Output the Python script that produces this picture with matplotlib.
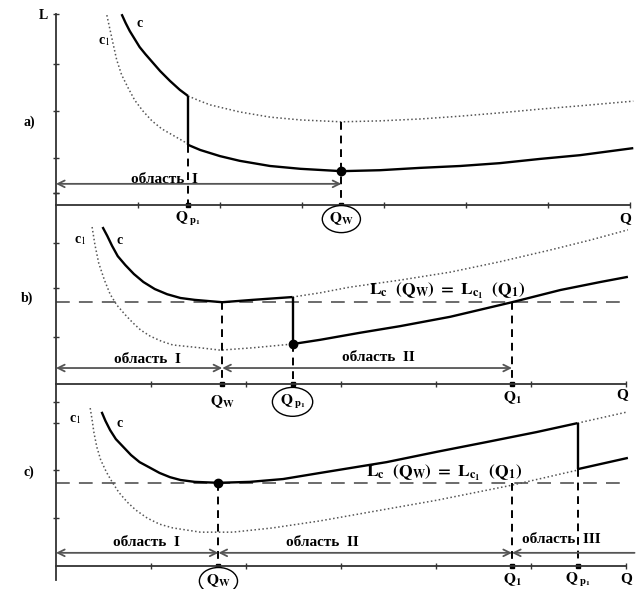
import matplotlib.pyplot as plt

plt.rcParams['font.family'] = ['Liberation Serif', 'DejaVu Serif']
plt.rcParams['mathtext.fontset'] = 'stix'

# ---------------- DATA (Q, L read off the schematic) ----------------
# panel a)
a_c_x = [0.80, 0.85, 0.90, 0.96, 1.02, 1.09, 1.15, 1.27, 1.39, 1.51, 1.61]
a_c_y = [4.06, 3.87, 3.70, 3.53, 3.36, 3.21, 3.09, 2.85, 2.64, 2.45, 2.32]
a_cdot_x = [1.61, 1.76, 1.88, 2.24, 2.61, 2.98, 3.48, 3.95, 4.44, 4.93, 5.41, 5.90, 6.39, 7.04]
a_cdot_y = [2.32, 2.21, 2.13, 1.98, 1.87, 1.81, 1.77, 1.79, 1.83, 1.89, 1.96, 2.04, 2.11, 2.21]
a_c1dot_x = [0.62, 0.66, 0.70, 0.74, 0.80, 0.88, 0.96, 1.06, 1.17, 1.29, 1.44, 1.61]
a_c1dot_y = [4.04, 3.72, 3.40, 3.09, 2.77, 2.49, 2.23, 2.00, 1.79, 1.62, 1.47, 1.30]
a_c1_x = [1.61, 1.76, 2.00, 2.24, 2.61, 2.98, 3.48, 3.95, 4.44, 4.93, 5.41, 5.90, 6.39, 7.04]
a_c1_y = [1.28, 1.17, 1.04, 0.94, 0.83, 0.77, 0.72, 0.74, 0.79, 0.83, 0.89, 0.98, 1.06, 1.21]
a_qp1, a_qw = 1.61, 3.48

# panel b)
b_c_x = [0.49, 0.54, 0.59, 0.65, 0.73, 0.82, 0.92, 1.04, 1.17, 1.31, 1.46, 1.75, 2.07, 2.49]
b_c_y = [3.34, 3.15, 2.94, 2.72, 2.53, 2.34, 2.17, 2.02, 1.91, 1.83, 1.79, 1.74, 1.79, 1.85]
b_cdot_x = [2.49, 2.78, 3.09, 3.62, 4.15, 4.67, 5.20, 5.62, 6.02]
b_cdot_y = [1.85, 1.94, 2.06, 2.21, 2.38, 2.60, 2.85, 3.06, 3.28]
b_c1dot_x = [0.38, 0.41, 0.45, 0.51, 0.57, 0.64, 0.73, 0.81, 0.89, 0.99, 1.11, 1.23, 1.52, 1.73, 2.07, 2.49]
b_c1dot_y = [3.34, 2.96, 2.57, 2.21, 1.91, 1.68, 1.47, 1.30, 1.15, 1.02, 0.91, 0.83, 0.77, 0.72, 0.77, 0.85]
b_c1_x = [2.49, 2.78, 3.20, 3.62, 4.15, 4.80, 5.31, 5.73, 6.02]
b_c1_y = [0.85, 0.94, 1.09, 1.23, 1.43, 1.74, 2.00, 2.17, 2.28]
b_qw, b_qp1, b_q1, b_level = 1.75, 2.49, 4.80, 1.74

# panel c)
c_c_x = [0.48, 0.52, 0.57, 0.63, 0.71, 0.79, 0.88, 0.99, 1.09, 1.20, 1.31, 1.46, 1.71,
         2.04, 2.39, 2.78, 3.48, 4.01, 4.54, 5.06, 5.49]
c_c_y = [3.28, 3.09, 2.89, 2.70, 2.53, 2.36, 2.21, 2.09, 1.98, 1.89, 1.83, 1.79, 1.77,
         1.79, 1.85, 1.98, 2.21, 2.43, 2.64, 2.85, 3.04]
c_cdot_x = [5.49, 6.02]
c_cdot_y = [3.04, 3.28]
c_c1dot_x = [0.36, 0.38, 0.40, 0.43, 0.47, 0.53, 0.59, 0.66, 0.75, 0.84, 0.96, 1.09, 1.23,
             1.52, 1.86, 2.28, 2.78, 3.31, 4.01, 4.80, 5.49]
c_c1dot_y = [3.36, 3.11, 2.83, 2.53, 2.26, 2.00, 1.79, 1.57, 1.36, 1.19, 1.02, 0.89, 0.81,
             0.72, 0.72, 0.81, 0.96, 1.15, 1.40, 1.72, 2.04]
c_c1_x = [5.49, 6.02]
c_c1_y = [2.06, 2.30]
c_qw, c_q1, c_qp1, c_level = 1.71, 4.80, 5.49, 1.77

W, H = 637, 589

fig = plt.figure(figsize=(W / 100, H / 100), dpi=100)


def panel(x_unit, y_unit, y0, n_xticks, yticks, spine_lo, spine_hi):
    """one transparent axes over the whole figure, origin at pixel (56, y0)"""
    ax = fig.add_axes([0, 0, 1, 1])
    ax.patch.set_visible(False)
    ax.set_xlim(-56 / x_unit, (W - 56) / x_unit)
    ax.set_ylim((y0 - H) / y_unit, y0 / y_unit)
    for s in ['top', 'right']:
        ax.spines[s].set_visible(False)
    ax.spines['bottom'].set_position(('data', 0))
    ax.spines['bottom'].set_bounds(0, n_xticks)
    ax.spines['left'].set_position(('data', 0))
    ax.spines['left'].set_bounds(spine_lo, spine_hi)
    for s in ['bottom', 'left']:
        ax.spines[s].set_linewidth(1.3)
        ax.spines[s].set_color('#333333')
    ax.set_xticks(range(1, n_xticks + 1))
    ax.set_yticks(yticks)
    ax.tick_params(direction='inout', length=5, width=1, color='#333333',
                   labelbottom=False, labelleft=False)
    return ax


SOLID = dict(color='black', lw=1.7, solid_capstyle='butt')
DOT = dict(color='#555555', lw=1.1, linestyle=(0, (1, 1.6)))
VDASH = dict(color='black', lw=1.4, linestyle=(0, (4, 3)))
HDASH = dict(color='#444444', lw=1.1, linestyle=(0, (9, 6)))
TXT = dict(fontsize=11, fontweight='bold', ha='center', va='center')
LAB = dict(fontsize=10, fontweight='bold', ha='center', va='center')
QL = dict(fontsize=11, ha='center', va='center')
ELL = dict(boxstyle='ellipse,pad=0.08', fc='white', ec='black', lw=1.0)
LC = r'$\mathbf{L_c\ \ (Q_W)\ =\ L_{c_1}\ \ (Q_1)}$'


def region(ax, x1, x2, y, style='<->'):
    ax.annotate('', xy=(x2, y), xytext=(x1, y),
                arrowprops=dict(arrowstyle=style, color='#555555', lw=1.3,
                                shrinkA=0, shrinkB=0, mutation_scale=12))


def axis_mark(ax, x):
    ax.plot([x], [0], marker='s', ms=3.5, color='black', clip_on=False)


# ---------------- a) ----------------
ax = panel(82, 47, 205, 7, [0.26, 1, 2, 3, 4.06], 0, 4.06)
ax.plot(a_c1dot_x, a_c1dot_y, **DOT)
ax.plot(a_cdot_x, a_cdot_y, **DOT)
ax.plot(a_c_x, a_c_y, **SOLID)
ax.plot(a_c1_x, a_c1_y, **SOLID)
ax.plot([a_qp1, a_qp1], [a_c_y[-1], a_c1_y[0]], **SOLID)
ax.plot([a_qp1, a_qp1], [a_c1_y[0], 0], **VDASH)
ax.plot([a_qw, a_qw], [min(a_cdot_y), 0], **VDASH)
ax.plot([a_qw], [min(a_c1_y)], 'o', ms=6, color='black')
axis_mark(ax, a_qp1)
axis_mark(ax, a_qw)
region(ax, 0, a_qw, 0.45)
ax.text(1.32, 0.55, 'область  I', **TXT)
ax.text(-0.15, 4.04, 'L', **LAB)
ax.text(-0.32, 1.77, 'a)', **LAB)
ax.text(1.02, 3.87, 'c', **LAB)
ax.text(0.59, 3.47, r'c$_1$', **LAB)
ax.text(a_qp1, -0.30, r'$\mathbf{Q_{\ p_1}}$', **QL)
ax.text(a_qw, -0.30, r'$\mathbf{Q_W}$', bbox=ELL, **QL)
ax.text(6.94, -0.28, 'Q', fontsize=11, fontweight='bold', ha='center', va='center')

# ---------------- b) ----------------
ax = panel(95, 47, 384, 6, [1, 2.04, 3, 4.06], 0, 3.81)
ax.plot([0, 6.02], [b_level, b_level], **HDASH)
ax.plot(b_c1dot_x, b_c1dot_y, **DOT)
ax.plot(b_cdot_x, b_cdot_y, **DOT)
ax.plot(b_c_x, b_c_y, **SOLID)
ax.plot(b_c1_x, b_c1_y, **SOLID)
ax.plot([b_qp1, b_qp1], [b_c_y[-1], b_c1_y[0]], **SOLID)
ax.plot([b_qw, b_qw], [b_level, 0], **VDASH)
ax.plot([b_qp1, b_qp1], [b_c1_y[0], 0], **VDASH)
ax.plot([b_q1, b_q1], [b_level, 0], **VDASH)
ax.plot([b_qp1], [b_c1_y[0]], 'o', ms=6, color='black')
for q in [b_qw, b_qp1, b_q1]:
    axis_mark(ax, q)
region(ax, 0, b_qw, 0.34)
region(ax, b_qw, b_q1, 0.34)
ax.text(0.96, 0.53, 'область  I', **TXT)
ax.text(3.39, 0.56, 'область  II', **TXT)
ax.text(4.12, 1.97, LC, fontsize=12.5, ha='center', va='center')
ax.text(-0.31, 1.83, 'b)', **LAB)
ax.text(0.67, 3.06, 'c', **LAB)
ax.text(0.25, 3.06, r'c$_1$', **LAB)
ax.text(b_qw, -0.38, r'$\mathbf{Q_W}$', **QL)
ax.text(b_qp1, -0.38, r'$\mathbf{Q_{\ p_1}}$', bbox=ELL, **QL)
ax.text(b_q1, -0.30, r'$\mathbf{Q_1}$', **QL)
ax.text(5.96, -0.23, 'Q', fontsize=11, fontweight='bold', ha='center', va='center')

# ---------------- c) ----------------
ax = panel(95, 47, 566, 6, [1.02, 2.04, 3.04, 3.49], -0.3, 3.87)
ax.plot([0, 6.02], [c_level, c_level], **HDASH)
ax.plot(c_c1dot_x, c_c1dot_y, **DOT)
ax.plot(c_cdot_x, c_cdot_y, **DOT)
ax.plot(c_c_x, c_c_y, **SOLID)
ax.plot(c_c1_x, c_c1_y, **SOLID)
ax.plot([c_qp1, c_qp1], [c_c_y[-1], c_c1_y[0]], **SOLID)
ax.plot([c_qw, c_qw], [c_level, 0], **VDASH)
ax.plot([c_q1, c_q1], [c_level, 0], **VDASH)
ax.plot([c_qp1, c_qp1], [c_c1_y[0], 0], **VDASH)
ax.plot([c_qw], [c_level], 'o', ms=6, color='black')
for q in [c_qw, c_q1, c_qp1]:
    axis_mark(ax, q)
region(ax, 0, c_qw, 0.28)
region(ax, c_qw, c_q1, 0.28)
region(ax, c_q1, 6.09, 0.28, style='<-')
ax.plot([6.15, 6.4], [0.28, 0.28], color='#999999', lw=1.2, linestyle=(0, (1, 2)), clip_on=False)
ax.text(0.95, 0.50, 'область  I', **TXT)
ax.text(2.80, 0.50, 'область  II', **TXT)
ax.text(5.32, 0.56, 'область  III', **TXT)
ax.text(4.08, 1.97, LC, fontsize=12.5, ha='center', va='center')
ax.text(-0.29, 2.0, 'c)', **LAB)
ax.text(0.67, 3.04, 'c', **LAB)
ax.text(0.20, 3.11, r'c$_1$', **LAB)
ax.text(c_qw, -0.32, r'$\mathbf{Q_W}$', bbox=ELL, **QL)
ax.text(c_q1, -0.30, r'$\mathbf{Q_1}$', **QL)
ax.text(c_qp1, -0.30, r'$\mathbf{Q_{\ p_1}}$', **QL)
ax.text(6.0, -0.26, 'Q', fontsize=11, fontweight='bold', ha='center', va='center')

fig.savefig('out.png', dpi=100)
